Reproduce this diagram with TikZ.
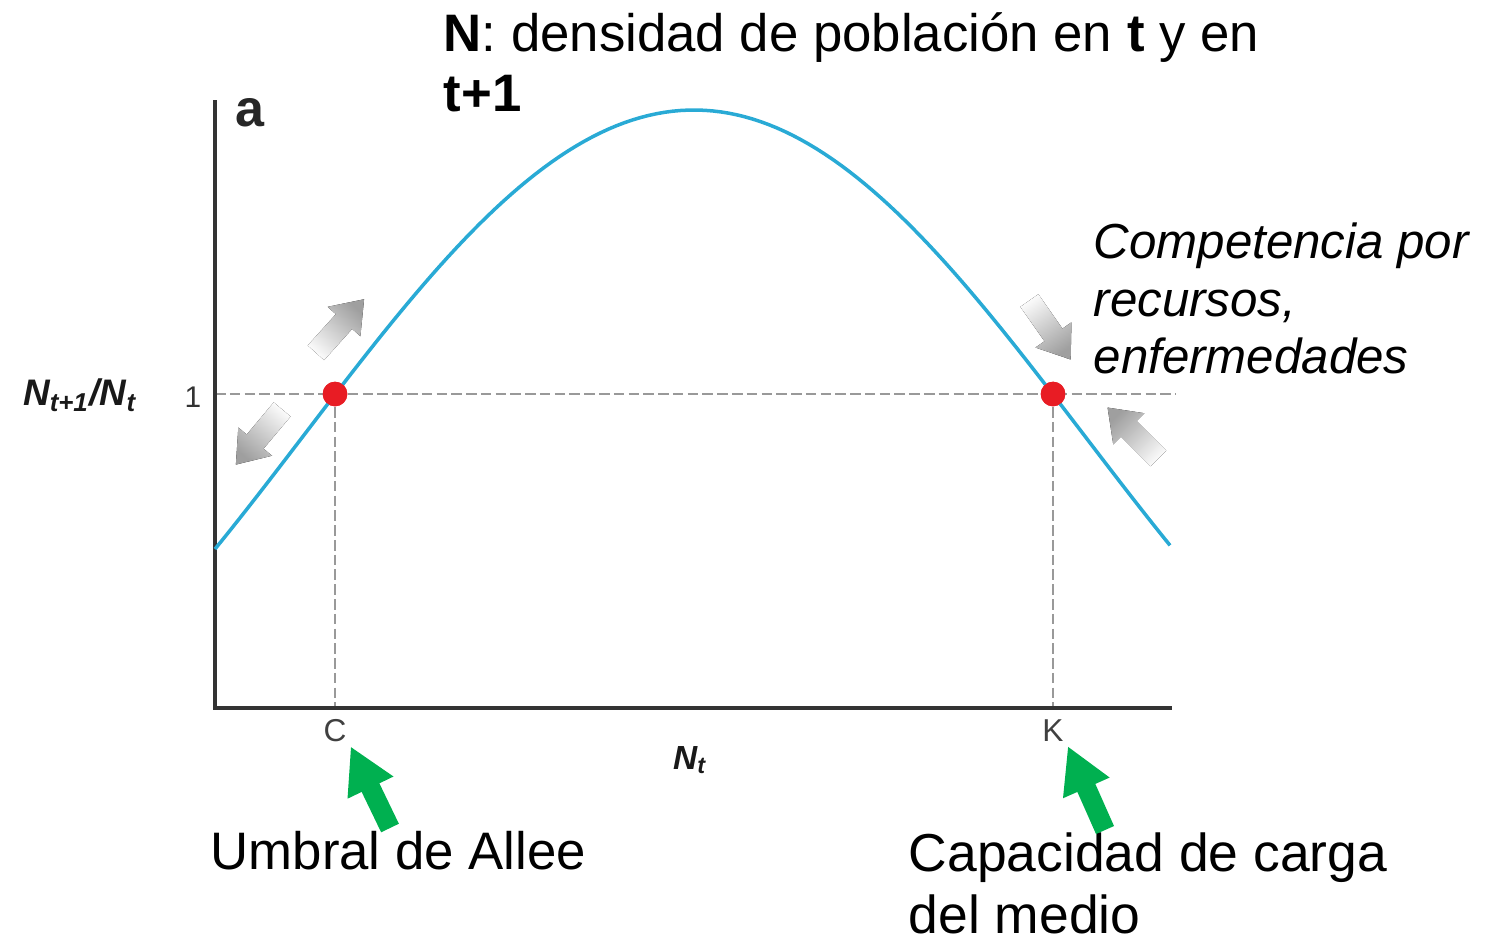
\documentclass[tikz,border=0pt]{standalone}
\usepackage{fontspec}
\setmainfont{Liberation Sans}
\usetikzlibrary{arrows.meta,positioning}

\definecolor{azulcurva}{RGB}{41,170,213}
\definecolor{rojo}{RGB}{232,28,36}
\definecolor{verde}{RGB}{0,176,80}

\begin{document}
\begin{tikzpicture}[x=0.01cm,y=-0.01cm,
    eje/.style={draw=black!80,line width=0.9pt},
    guia/.style={draw=gray!80,line width=0.5pt,dash pattern=on 3pt off 1.2pt},
    equilibrio/.style={circle,fill=rojo,inner sep=0pt,minimum size=7pt},
    flechagris/.style={top color=gray!75,bottom color=gray!5,shading angle=#1},
    flechaverde/.style={-{Triangle[length=13pt,width=13.5pt]},line width=5.6pt,draw=verde},
    marca/.style={text=black!75,inner sep=1pt,font=\fontsize{9}{10}\selectfont}]
    \useasboundingbox (0,0) rectangle (1486,939);
    \coordinate (o) at (215,708);
    \coordinate (ytop) at (215,100);
    \coordinate (xfin) at (1172,708);
    \node[equilibrio] (pC) at (335,394) {};
    \node[equilibrio] (pK) at (1053,394) {};
    \node[marca] (C) at (335,731) {C};
    \node[marca] (K) at (1053,731) {K};
    \draw[guia] (o |- pC) -- (1176,394);
    \draw[guia] (pC) -- (pC |- o);
    \draw[guia] (pK) -- (pK |- o);
    \draw[eje] (ytop) -- (o) -- (xfin);
    \draw[azulcurva,line width=1pt] plot[domain=215:1170,samples=120]
        (\x,{110+325*(1-cos((\x-694)*0.230769))});
    \node[equilibrio] at (pC) {};
    \node[equilibrio] at (pK) {};
    \foreach \cx/\cy/\ang in {340/326/48, 259/437/230, 1050/330/-55, 1133/433/135}{
        \begin{scope}[shift={(\cx,\cy)},rotate=\ang]
            \fill[flechagris=\ang-90] (-36,-11) -- (6,-11) -- (6,-22) -- (36,0)
                -- (6,22) -- (6,11) -- (-36,11) -- cycle;
        \end{scope}
    }
    \node[text=black!85,font=\bfseries\fontsize{14.8}{16}\selectfont] (panel) at (250,113) {a};
    \node[text=black!80,font=\fontsize{8.5}{9}\selectfont] (uno) at (193,397) {1};
    \node[text=black!90,font=\bfseries\itshape\fontsize{10.5}{11}\selectfont] (ylab) at (80,395)
        {N\textsubscript{t+1}/N\textsubscript{t}};
    \node[text=black!90,font=\bfseries\itshape\fontsize{9.5}{10}\selectfont] (Nt) at (690,760)
        {N\textsubscript{t}};
    \node[anchor=north west,align=left,inner sep=0pt,font=\fontsize{15}{17}\selectfont] (titulo)
        at (443,12) {\textbf{N}: densidad de población en \textbf{t} y en\\\textbf{t+1}};
    \node[anchor=north west,align=left,inner sep=0pt,font=\itshape\fontsize{14}{16.4}\selectfont]
        (competencia) at (1093,222) {Competencia por\\recursos,\\enfermedades};
    \node[anchor=base west,inner sep=0pt,font=\fontsize{15}{17}\selectfont] (umbral)
        at (210,869) {Umbral de Allee};
    \node[anchor=north west,align=left,inner sep=0pt,font=\fontsize{15.2}{17.6}\selectfont]
        (capacidad) at (908,832) {Capacidad de carga\\del medio};
    \coordinate (colaC) at (390,828);
    \coordinate (colaK) at (1105,830);
    \draw[flechaverde] (colaC) -- (C.south east);
    \draw[flechaverde] (colaK) -- (K.south east);
\end{tikzpicture}
\end{document}
